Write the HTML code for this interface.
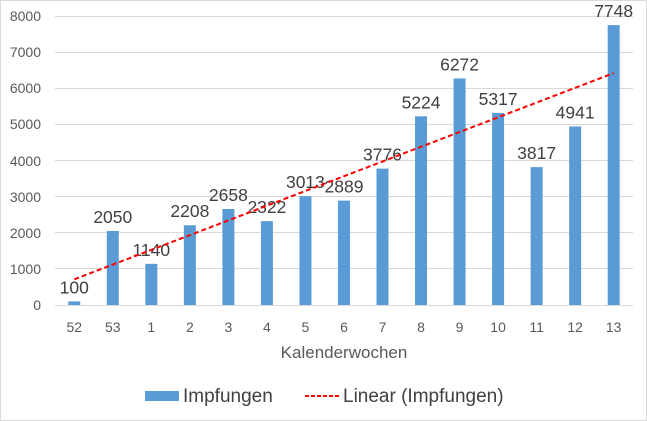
<!DOCTYPE html>
<html><head><meta charset="utf-8"><style>
body{margin:0;background:#fff}
svg{display:block;font-family:"Liberation Sans",sans-serif}
</style></head><body>
<svg width="647" height="421" viewBox="0 0 647 421">
<rect x="0.5" y="0.5" width="646" height="420" fill="#fff" stroke="#d9d9d9"/>
<g stroke="#d9d9d9" stroke-width="1">
<line x1="55" x2="633" y1="16.5" y2="16.5"/><line x1="55" x2="633" y1="52.5" y2="52.5"/>
<line x1="55" x2="633" y1="88.5" y2="88.5"/><line x1="55" x2="633" y1="124.5" y2="124.5"/>
<line x1="55" x2="633" y1="160.5" y2="160.5"/><line x1="55" x2="633" y1="196.5" y2="196.5"/>
<line x1="55" x2="633" y1="232.5" y2="232.5"/><line x1="55" x2="633" y1="268.5" y2="268.5"/>
<line x1="55" x2="633" y1="305.5" y2="305.5"/>
</g>
<g fill="#595959" font-size="14" text-anchor="end">
<text x="41" y="21">8000</text><text x="41" y="57">7000</text><text x="41" y="93">6000</text>
<text x="41" y="129">5000</text><text x="41" y="166">4000</text><text x="41" y="202">3000</text>
<text x="41" y="238">2000</text><text x="41" y="274">1000</text><text x="41" y="310">0</text>
</g>
<g id="bars" fill="#5b9bd5"></g>
<g id="lbl" fill="#404040" font-size="17.5" text-anchor="middle"></g>
<g id="xl" fill="#595959" font-size="14" text-anchor="middle"></g>
<line x1="74.3" y1="279.3" x2="613.7" y2="73.1" stroke="#ff0000" stroke-width="2" stroke-dasharray="5,3"/>
<text x="344" y="358" fill="#595959" font-size="17" text-anchor="middle">Kalenderwochen</text>
<rect x="145" y="391" width="34" height="10" fill="#5b9bd5"/>
<text x="183" y="402" fill="#404040" font-size="19">Impfungen</text>
<line x1="305" y1="396" x2="339" y2="396" stroke="#ff0000" stroke-width="2" stroke-dasharray="4,2"/>
<text x="343" y="402" fill="#404040" font-size="19">Linear (Impfungen)</text>
</svg>
<script>
var v=[100,2050,1140,2208,2658,2322,3013,2889,3776,5224,6272,5317,3817,4941,7748];
var c=["52","53","1","2","3","4","5","6","7","8","9","10","11","12","13"];
var b='',l='',x='';
for(var i=0;i<15;i++){var cx=55+38.53*(i+.5);var h=v[i]*0.036125;var t=305-h;
b+='<rect x="'+(cx-6)+'" y="'+t+'" width="12" height="'+h+'"/>';
l+='<text x="'+cx+'" y="'+(t-8)+'">'+v[i]+'</text>';
x+='<text x="'+cx+'" y="332">'+c[i]+'</text>';}
document.getElementById('bars').innerHTML=b;
document.getElementById('lbl').innerHTML=l;
document.getElementById('xl').innerHTML=x;
</script>
</body></html>
